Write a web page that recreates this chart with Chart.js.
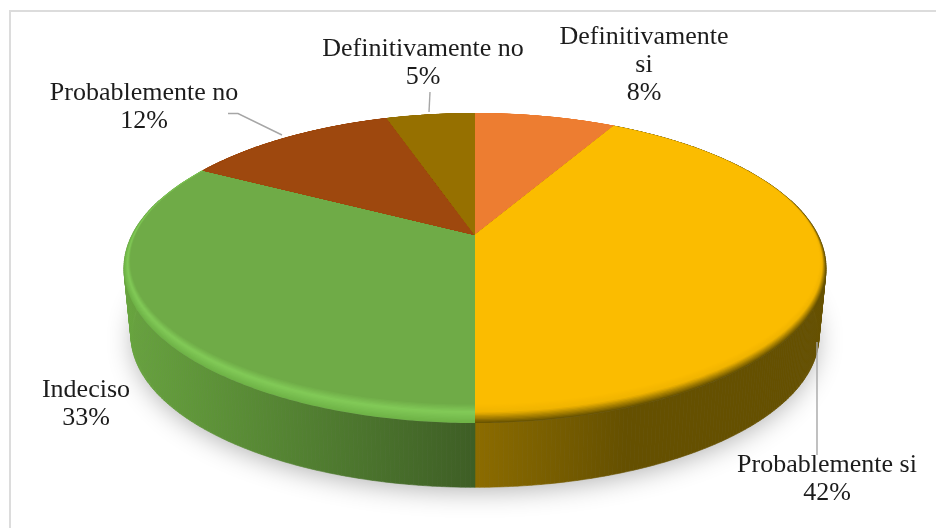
<!DOCTYPE html>
<html>
<head>
<meta charset="utf-8">
<script src="https://cdn.jsdelivr.net/npm/chart.js@4"></script>
<style>
  html, body { margin: 0; padding: 0; background: #fff; overflow: hidden; }
  canvas { display: block; }
</style>
</head>
<body>
<canvas id="pieChart" width="936" height="528"></canvas>
<script>
const categories = ['Definitivamente si', 'Probablemente si', 'Indeciso', 'Probablemente no', 'Definitivamente no'];
const values = [8, 42, 33, 12, 5];
const topColors = ['#ed7d31', '#fbbc00', '#6fab47', '#9e480e', '#967000'];
const rimLight = ['#ed7d31', '#f0b400', '#82ca58', '#9e480e', '#967000'];
const rimEdge = ['#ed7d31', '#6b5500', '#6fb347', '#9e480e', '#967000'];
const wallStart = ['#8c4a1c', '#8c6c00', '#3e5e25', '#5e2a08', '#5a4400'];
const wallEnd = ['#8c4a1c', '#655000', '#67a33e', '#5e2a08', '#5a4400'];

// tilted disc: same perspective for the top face and the bottom face
const disc = { x: 475, a: 343, b: 148, k: 0.213 };
const topFace = { y: 235, s: 1 };
const bottomFace = { y: 303, s: 0.98 };

function project(face, theta, r) {
    const X = Math.sin(theta) * r;
    const Y = -Math.cos(theta) * r;
    const w = 1 - disc.k * Y;
    return [disc.x + face.s * disc.a * X / w, face.y + face.s * disc.b * Y / w];
}

function rimWidth(theta) {
    const t = Math.max(0, (-Math.cos(theta) + 0.3) / 1.3);
    return 0.007 + 0.072 * t * t;
}

function mix(c1, c2, t) {
    const p = c => [1, 3, 5].map(i => parseInt(c.substr(i, 2), 16));
    const a = p(c1), b = p(c2);
    return 'rgb(' + a.map((v, i) => Math.round(v + (b[i] - v) * t)).join(',') + ')';
}

function sweep(a0, a1) {
    const n = Math.max(2, Math.ceil((a1 - a0) * 90));
    const list = [];
    for (let i = 0; i <= n; i++) list.push(a0 + (a1 - a0) * i / n);
    return list;
}

function drawShadow(ctx) {
    ctx.save();
    ctx.shadowColor = 'rgba(0,0,0,0.3)';
    ctx.shadowBlur = 26;
    ctx.shadowOffsetY = 5;
    ctx.fillStyle = '#777';
    ctx.beginPath();
    sweep(0, Math.PI * 2).forEach(t => {
        const p = project(bottomFace, t, 0.995);
        ctx.lineTo(p[0], p[1]);
    });
    ctx.closePath();
    ctx.fill();
    ctx.restore();
}

function drawWall(ctx, i, a0, a1) {
    const g = ctx.createLinearGradient(475, 0, i === 1 ? 625 : 130, 0);
    g.addColorStop(0, wallStart[i]);
    g.addColorStop(1, wallEnd[i]);
    ctx.fillStyle = g;
    ctx.strokeStyle = g;
    ctx.lineWidth = 0.6;
    // one quad per step, the side of the disc folds over itself near the ends
    const ts = sweep(a0, a1);
    for (let n = 0; n < ts.length - 1; n++) {
        const p = [project(topFace, ts[n], 1), project(topFace, ts[n + 1], 1),
                   project(bottomFace, ts[n + 1], 1), project(bottomFace, ts[n], 1)];
        ctx.beginPath();
        p.forEach(q => ctx.lineTo(q[0], q[1]));
        ctx.closePath();
        ctx.fill();
        ctx.stroke();
    }
}

function drawTop(ctx, i, a0, a1) {
    // soft bevel along the rim: outer colour first, each smaller fan paints over it
    const rings = 14;
    const ts = sweep(a0, a1);
    for (let j = rings; j >= 0; j--) {
        const u = j / rings;
        ctx.fillStyle = u < 0.45 ? mix(topColors[i], rimLight[i], u / 0.45) : mix(rimLight[i], rimEdge[i], (u - 0.45) / 0.55);
        ctx.beginPath();
        ctx.moveTo(disc.x, topFace.y);
        ts.forEach(t => { const p = project(topFace, t, 1 - rimWidth(t) * (1 - u)); ctx.lineTo(p[0], p[1]); });
        ctx.closePath();
        ctx.fill();
    }
}

function drawLeaders(ctx) {
    ctx.strokeStyle = '#a6a6a6';
    ctx.lineWidth = 1.4;
    [[[228, 113.5], [238, 113.5], [282, 135]], [[430, 92], [429, 112]], [[817, 342], [817, 455]]].forEach(line => {
        ctx.beginPath();
        line.forEach(p => ctx.lineTo(p[0], p[1]));
        ctx.stroke();
    });
}

function drawLabels(ctx) {
    const spots = [
        { x: 644, y: 44, lines: ['Definitivamente', 'si'] },
        { x: 827, y: 472, lines: [categories[1]] },
        { x: 86, y: 397, lines: [categories[2]] },
        { x: 144, y: 100, lines: [categories[3]] },
        { x: 423, y: 56, lines: [categories[4]] }
    ];
    ctx.fillStyle = '#1c1c1c';
    ctx.font = '26px "Liberation Serif"';
    ctx.textAlign = 'center';
    ctx.textBaseline = 'alphabetic';
    spots.forEach((s, i) => {
        s.lines.concat(values[i] + '%').forEach((txt, n) => ctx.fillText(txt, s.x, s.y + n * 28));
    });
}

const pie3d = {
    id: 'pie3d',
    beforeDatasetsDraw() {
        return false; // the slices are painted below, with perspective
    },
    afterDraw(chart) {
        const ctx = chart.ctx;
        const arcs = chart.getDatasetMeta(0).data;
        const half = Math.PI / 2;

        ctx.save();
        ctx.fillStyle = '#fff';
        ctx.fillRect(0, 0, chart.width, chart.height);
        ctx.strokeStyle = '#dcdcdc';
        ctx.lineWidth = 2;
        ctx.beginPath();
        ctx.moveTo(10, 528);
        ctx.lineTo(10, 11);
        ctx.lineTo(936, 11);
        ctx.stroke();

        drawShadow(ctx);
        arcs.forEach((arc, i) => {
            const a0 = Math.max(arc.startAngle + half, half - 0.25);
            const a1 = Math.min(arc.endAngle + half, half * 3 + 0.25);
            if (a1 > a0) drawWall(ctx, i, a0, a1);
        });
        arcs.forEach((arc, i) => drawTop(ctx, i, arc.startAngle + half, arc.endAngle + half));
        drawLeaders(ctx);
        drawLabels(ctx);
        ctx.restore();
    }
};

new Chart(document.getElementById('pieChart').getContext('2d'), {
    type: 'pie',
    data: {
        labels: categories,
        datasets: [{ data: values, backgroundColor: topColors, borderWidth: 0 }]
    },
    options: {
        responsive: false,
        animation: false,
        plugins: { legend: { display: false }, tooltip: { enabled: false } }
    },
    plugins: [pie3d]
});
</script>
</body>
</html>
